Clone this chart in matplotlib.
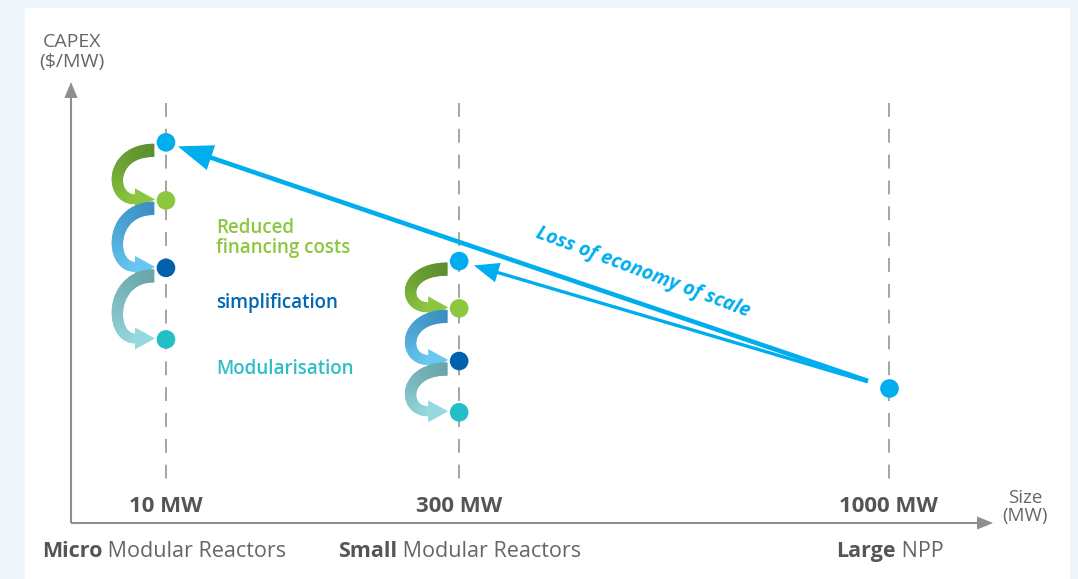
import numpy as np
import matplotlib.pyplot as plt
from matplotlib.patches import Rectangle, FancyArrowPatch, Polygon, ArrowStyle
from matplotlib.collections import PolyCollection
from matplotlib.colors import to_rgb
from matplotlib.transforms import IdentityTransform

plt.rcParams['font.family'] = ['Open Sans', 'DejaVu Sans']
plt.rcParams['lines.scale_dashes'] = False

W, H = 1078, 579

# data: relative CAPEX per MW (large NPP = 1)
sizes = ['10 MW', '300 MW', '1000 MW']
class_bold = ['Micro', 'Small', 'Large']
class_rest = [' Modular Reactors', ' Modular Reactors', ' NPP']
capex_micro = [2.82, 2.39, 1.89, 1.36]
capex_smr = [1.94, 1.59, 1.20, 0.82]
capex_large = 1.0
steps = ['Reduced\nfinancing costs', 'simplification', 'Modularisation']
trend_label = 'Loss of economy of scale'

# style
col_x = [0.103, 0.421, 0.887]
dot_colors = ['#00aeef', '#8dc63f', '#0061ae', '#22bfc7']
step_colors = ['#8dc63f', '#0067b1', '#2ebfc6']
ribbon_colors = [('#5c8e2e', '#8cc640'), ('#3a8ec3', '#68c7f0'), ('#68a4a9', '#95d8de')]
BLUE = '#00aeef'
GREY = '#8f8f8f'
TXT = '#555555'


def fx(x):
    return x / W


def fy(y):
    return 1 - y / H


def ribbon(ax, p_top, p_bot, c0, c1, n=80):
    # curved gradient arrow from under p_top round to the left of p_bot (display px)
    xd, yu = p_top
    yl = p_bot[1]
    P0 = np.array([xd - 12, yu - 8])
    P1 = np.array([xd - 57, yu - 8])
    P2 = np.array([xd - 57, yl + 1])
    P3 = np.array([xd - 31, yl + 1])
    t = np.linspace(0, 1, n + 1)[:, None]
    B = (1 - t) ** 3 * P0 + 3 * (1 - t) ** 2 * t * P1 + 3 * (1 - t) * t ** 2 * P2 + t ** 3 * P3
    D = 3 * (1 - t) ** 2 * (P1 - P0) + 6 * (1 - t) * t * (P2 - P1) + 3 * t ** 2 * (P3 - P2)
    D = D / np.linalg.norm(D, axis=1)[:, None]
    N = np.column_stack([-D[:, 1], D[:, 0]])
    w = (12.5 - 3.5 * t) / 2
    L = B + N * w
    R = B - N * w
    quads = [[L[i], L[i + 1], R[i + 1], R[i]] for i in range(n)]
    a, b = np.array(to_rgb(c0)), np.array(to_rgb(c1))
    cols = [a + (b - a) * (i + 0.5) / n for i in range(n)]
    pc = PolyCollection(quads, facecolors=cols, edgecolors=cols, linewidths=0.6,
                        transform=IdentityTransform(), clip_on=False, zorder=3)
    ax.add_collection(pc)
    d, nn = D[-1], N[-1]
    head = [P3 + nn * 11, P3 - nn * 11, P3 + d * 20]
    ax.add_patch(Polygon(head, closed=True, color=c1, lw=0,
                         transform=IdentityTransform(), clip_on=False, zorder=3))


fig = plt.figure(figsize=(W / 100, H / 100), dpi=100)
fig.patch.set_facecolor('#eff7fd')
fig.add_artist(Rectangle((fx(25), 0), fx(1070) - fx(25), fy(8), transform=fig.transFigure,
                         facecolor='white', edgecolor='none', zorder=0))

ax = fig.add_axes([fx(71), fy(523), fx(993) - fx(71), fy(82) - fy(523)])
ax.set_xlim(0, 1)
ax.set_ylim(0, 3.267)
ax.axis('off')

# axis arrows
for end in [(0, 1), (1, 0)]:
    ax.add_patch(FancyArrowPatch((0, 0), end, transform=ax.transAxes,
                                 arrowstyle=ArrowStyle.Simple(head_length=1.15, head_width=0.95, tail_width=0.15),
                                 mutation_scale=10, shrinkA=0, shrinkB=0, color=GREY, lw=0, clip_on=False))

# dashed guides
for x in col_x:
    ax.plot([x, x], [3.11, 0.30], color='#a5a5a5', lw=1.4, ls=(0, (10, 8.6)), zorder=1)

# dots
columns = [capex_micro, capex_smr, [capex_large]]
for x, vals in zip(col_x, columns):
    ax.scatter([x] * len(vals), vals, s=180, c=dot_colors[:len(vals)], zorder=5, linewidths=0)

# curved step arrows
for x, vals in zip(col_x[:2], columns[:2]):
    pts = ax.transData.transform(np.column_stack([[x] * len(vals), vals]))
    for i in range(3):
        ribbon(ax, pts[i], pts[i + 1], *ribbon_colors[i])

# loss of economy of scale arrows
for target, hl, hw, tw, sb in [((col_x[0], capex_micro[0]), 1.26, 0.94, 0.165, 9),
                               ((col_x[1], capex_smr[0]), 0.9, 0.72, 0.12, 11)]:
    ax.add_patch(FancyArrowPatch((col_x[2], capex_large), target,
                                 arrowstyle=ArrowStyle.Simple(head_length=hl, head_width=hw, tail_width=tw),
                                 mutation_scale=20, shrinkA=15.8, shrinkB=sb, color=BLUE, lw=0, zorder=4))
ax.text(0.620, 1.86, trend_label, rotation=-20.5, rotation_mode='anchor', ha='center', va='center',
        fontsize=14, fontweight='bold', fontstyle='italic', color=BLUE)

# step labels
for lab, col, ypx in zip(steps, step_colors, [238, 303, 369]):
    fig.text(fx(216), fy(ypx), lab, color=col, fontsize=13.5, fontweight='semibold',
             ha='left', va='center', linespacing=1.05)

# size labels
for x, lab in zip(col_x, sizes):
    ax.text(x, 0.038, lab, transform=ax.get_xaxis_transform(), ha='center', va='center',
            fontsize=16, fontweight='bold', color=TXT)

# reactor class labels: bold word, then regular text on the same baseline
renderer = fig.canvas.get_renderer()
for xpx, b, r in zip([42, 338, 836], class_bold, class_rest):
    t1 = fig.text(fx(xpx), fy(557), b, ha='left', va='baseline', fontsize=15.5, fontweight='bold', color=TXT)
    x1 = t1.get_window_extent(renderer).x1
    fig.text(x1 / W, fy(557), r, ha='left', va='baseline', fontsize=15.5, color='#666666')

fig.text(fx(72), fy(52), 'CAPEX\n($/MW)', ha='center', va='center', fontsize=14, color='#666666',
         linespacing=1.15)
fig.text(fx(1025), fy(507), 'Size\n(MW)', ha='center', va='center', fontsize=13.5, color='#666666',
         linespacing=1.05)

fig.savefig('out.png', dpi=100)
